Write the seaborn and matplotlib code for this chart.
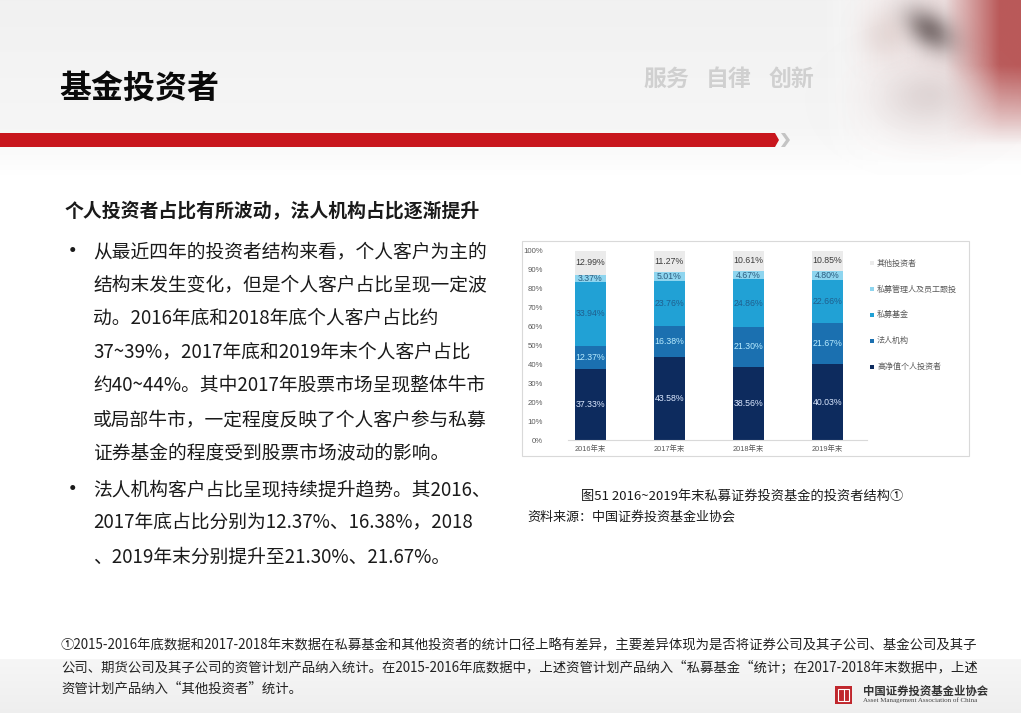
import numpy as np
import pandas as pd
import matplotlib
matplotlib.use("Agg")
import matplotlib.pyplot as plt
from matplotlib.patches import Rectangle, Polygon
import seaborn as sns

# ---------------- data ----------------
years = ["2016年末", "2017年末", "2018年末", "2019年末"]
series_names = ["高净值个人投资者", "法人机构", "私募基金", "私募管理人及员工跟投", "其他投资者"]
high_net_worth = [37.33, 43.58, 38.56, 40.03]
legal_entity = [12.37, 16.38, 21.30, 21.67]
private_fund = [33.94, 23.76, 24.86, 22.66]
manager_follow = [3.37, 5.01, 4.67, 4.80]
others = [12.99, 11.27, 10.61, 10.85]
y_ticks = [0, 10, 20, 30, 40, 50, 60, 70, 80, 90, 100]
y_tick_labels = [f"{t}%" for t in y_ticks]

title = "基金投资者"
slogan = ["服务", "自律", "创新"]
heading = "个人投资者占比有所波动，法人机构占比逐渐提升"
bullet1 = ["从最近四年的投资者结构来看，个人客户为主的",
           "结构末发生变化，但是个人客户占比呈现一定波",
           "动。2016年底和2018年底个人客户占比约",
           "37~39%，2017年底和2019年末个人客户占比",
           "约40~44%。其中2017年股票市场呈现整体牛市",
           "或局部牛市，一定程度反映了个人客户参与私募",
           "证券基金的程度受到股票市场波动的影响。"]
bullet2 = ["法人机构客户占比呈现持续提升趋势。其2016、",
           "2017年底占比分别为12.37%、16.38%，2018",
           "、2019年末分别提升至21.30%、21.67%。"]
caption = "图51 2016~2019年末私募证券投资基金的投资者结构①"
source = "资料来源：中国证券投资基金业协会"
footnote = ["①2015-2016年底数据和2017-2018年末数据在私募基金和其他投资者的统计口径上略有差异，主要差异体现为是否将证券公司及其子公司、基金公司及其子",
            "公司、期货公司及其子公司的资管计划产品纳入统计。在2015-2016年底数据中，上述资管计划产品纳入“私募基金“统计；在2017-2018年末数据中，上述",
            "资管计划产品纳入“其他投资者”统计。"]
logo_cn = "中国证券投资基金业协会"
logo_en = "Asset Management Association of China"

# ---------------- style ----------------
sns.set_style("white")
plt.rcParams['font.family'] = ['Noto Sans CJK SC', 'DejaVu Sans']
NUMF = ['Liberation Sans', 'Noto Sans CJK SC']

colors = ["#0d2b5e", "#1b70b0", "#21a1d5", "#8ed5ef", "#ebebeb"]
label_colors = ["#dce9ff", "#b8ecff", "#1f5f8e", "#2c5d80", "#3c3c3c"]

W, H = 1021, 720
fig = plt.figure(figsize=(W / 100, H / 100), dpi=100)
fig.patch.set_facecolor("white")

bg = fig.add_axes([0, 0, 1, 1], zorder=-10)
bg.set_xlim(0, W)
bg.set_ylim(H, 0)
bg.axis("off")

# header gradient
g = np.linspace(0, 1, 200)[:, None]
vals = np.where(g < 0.75, 0.945 + 0.02 * g / 0.75, 0.965 + 0.035 * (g - 0.75) / 0.25)
hdr = np.dstack([vals, vals, vals]).repeat(2, axis=1)
bg.imshow(hdr, extent=(0, W, 175, 0), aspect="auto", zorder=0)

# top-right decoration (soft approximation of the photo)
xs = np.linspace(800, W, 240)
ys = np.linspace(0, 175, 180)
X, Y = np.meshgrid(xs, ys)
def layer(rgb, alpha):
    arr = np.zeros(X.shape + (4,))
    arr[..., 0], arr[..., 1], arr[..., 2] = rgb
    arr[..., 3] = np.clip(alpha, 0, 1)
    bg.imshow(arr, extent=(800, W, 175, 0), aspect="auto", zorder=1)
# white fade over header on the right
layer((1.0, 1.0, 1.0), np.clip((X - 820) / 60, 0, 1) * 0.7)
# pink wash
layer((0.86, 0.72, 0.72), np.clip((X - 840) / 120, 0, 1) * np.clip((165 - Y) / 100, 0, 1) * 0.45)
# red right part
layer((0.68, 0.22, 0.22), np.clip((X - 945) / 55, 0, 1) * np.clip((145 - Y) / 80, 0, 1) * 0.8)
# dark pen / hand (diagonal soft shape)
U = (X - 930) * 0.8 + (Y - 30) * 0.6
V = -(X - 930) * 0.6 + (Y - 30) * 0.8
layer((0.22, 0.17, 0.17), 0.6 * np.exp(-((U / 28) ** 2 + (V / 18) ** 2)))
layer((0.80, 0.70, 0.68), 0.35 * np.exp(-(((X - 885) / 22) ** 2 + ((Y - 35) / 25) ** 2)))
# seal (light stone)
layer((0.90, 0.87, 0.87), 0.8 * np.exp(-(((X - 920) / 50) ** 2 + ((Y - 100) / 35) ** 2)))
layer((0.78, 0.72, 0.72), 0.25 * np.exp(-(((X - 930) / 30) ** 2 + ((Y - 95) / 20) ** 2)))

# title & slogan
bg.text(59, 89, title, fontsize=23, fontweight="heavy", color="#0a0a0a", va="center", ha="left", zorder=3)
for s, x in zip(slogan, [643, 706, 769]):
    bg.text(x, 79, s, fontsize=16.5, fontweight="bold", color="#d0d0d0", va="center", ha="left", zorder=3)

# red bar and chevron
bg.add_patch(Polygon([(0, 133), (775, 133), (779, 140), (775, 147), (0, 147)], closed=True,
                     facecolor="#c8161d", edgecolor="none", zorder=3))
bg.add_patch(Polygon([(781, 133), (785, 133), (790, 140), (785, 147), (781, 147), (786, 140)], closed=True,
                     facecolor="#c4c4c4", edgecolor="none", zorder=3))

# left text
txt_col = "#1a1a1a"
bg.text(65, 212, heading, fontsize=13.6, fontweight="bold", color=txt_col, va="center", ha="left")
b1_y = [252, 285, 318, 352, 385, 420, 453]
b2_y = [490, 523, 557]
bg.text(61, b1_y[0], "•", fontsize=17, color=txt_col, va="center", ha="left")
bg.text(61, b2_y[0], "•", fontsize=17, color=txt_col, va="center", ha="left")
for s, y in zip(bullet1, b1_y):
    bg.text(93, y, s, fontsize=13.5, color=txt_col, va="center", ha="left")
for s, y in zip(bullet2, b2_y):
    bg.text(93, y, s, fontsize=13.5, color=txt_col, va="center", ha="left")

# chart frame
bg.add_patch(Rectangle((522, 240.5), 447, 215.5, facecolor="white", edgecolor="#d9d9d9", lw=0.8, zorder=2))

# caption and source
bg.text(581, 496, caption, fontsize=9.5, color=txt_col, va="center", ha="left")
bg.text(527, 517, source, fontsize=9.4, color=txt_col, va="center", ha="left")

# footer band
fb = np.linspace(0.965, 0.935, 60)[:, None]
bg.imshow(np.dstack([fb, fb, fb]).repeat(2, axis=1), extent=(0, W, 713, 659), aspect="auto", zorder=0)
for s, y in zip(footnote, [645, 667, 689]):
    bg.text(61, y, s, fontsize=9.62, color="#222222", va="center", ha="left", zorder=3)

# logo
bg.add_patch(Rectangle((835, 686), 17, 18, facecolor="#c0272d", edgecolor="none", zorder=3))
bg.add_patch(Rectangle((838, 689), 11, 12, facecolor="none", edgecolor="white", lw=0.8, zorder=4))
bg.plot([843.5, 843.5], [689, 701], color="white", lw=0.8, zorder=4)
bg.text(863, 691, logo_cn, fontsize=8.2, fontweight="bold", color="#333333", va="center", ha="left", zorder=3)
bg.text(863, 700.5, logo_en, fontsize=5.0, color="#444444", family=["Liberation Serif"], va="center", ha="left", zorder=3)

# ---------------- chart ----------------
ax = fig.add_axes([568 / W, 1 - 440 / H, 299 / W, 189.5 / H], zorder=5)
ax.set_facecolor("none")

series = [high_net_worth, legal_entity, private_fund, manager_follow, others]
stack = np.cumsum(np.array(series), axis=0)
for i in reversed(range(len(series))):
    sns.barplot(x=years, y=stack[i], order=years, color=colors[i], saturation=1,
                width=0.39, linewidth=0, errorbar=None, ax=ax)
for i, vals_i in enumerate(series):
    for j, v in enumerate(vals_i):
        ax.text(j, stack[i][j] - v / 2, f"{v:.2f}%", ha="center", va="center",
                fontsize=6.3, color=label_colors[i], family=NUMF)

ax.set_xlim(-0.28, 3.5)
ax.set_ylim(0, 100)
ax.set_yticks(y_ticks)
ax.set_yticklabels(y_tick_labels, family=NUMF, fontsize=5.6, color="#595959")
ax.set_xticks(range(len(years)))
ax.set_xticklabels(years, family=NUMF, fontsize=5.3, color="#595959")
ax.tick_params(axis="y", length=0, pad=18)
ax.tick_params(axis="x", length=0, pad=4)
for sp in ["left", "right", "top"]:
    ax.spines[sp].set_visible(False)
ax.spines["bottom"].set_color("#d9d9d9")
ax.spines["bottom"].set_linewidth(0.8)
ax.set_xlabel("")
ax.set_ylabel("")
ax.grid(False)

# legend (manual, top to bottom reversed order)
leg_y = [263, 289, 314.5, 340.5, 366.5]
for k, idx in enumerate(reversed(range(len(series_names)))):
    y = leg_y[k]
    bg.add_patch(Rectangle((869.5, y - 2), 4, 4, facecolor=colors[idx], edgecolor="none", zorder=6))
    bg.text(877, y, series_names[idx], fontsize=5.8, color="#595959", va="center", ha="left", zorder=6)

fig.savefig("out.png", dpi=100)
